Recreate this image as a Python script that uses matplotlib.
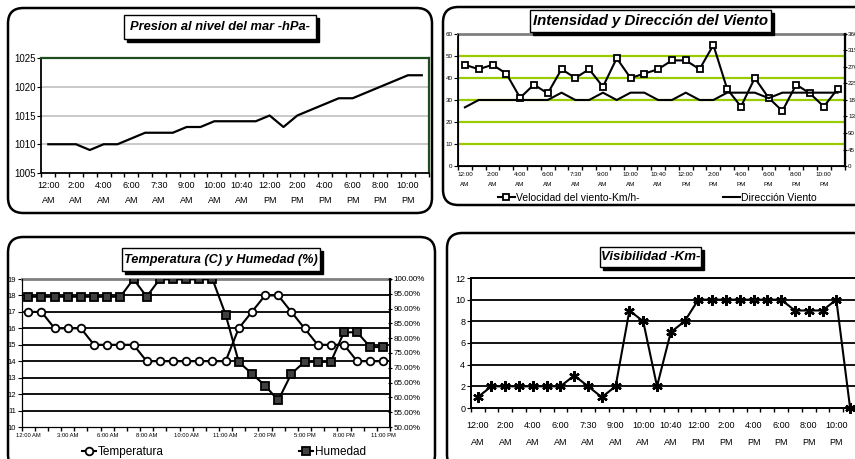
import matplotlib
matplotlib.use("Agg")
import matplotlib.pyplot as plt
from matplotlib.patches import FancyBboxPatch, Rectangle
from matplotlib.ticker import FuncFormatter

plt.rcParams['font.family'] = ['Liberation Sans', 'DejaVu Sans']

# ---------------- data ----------------
times = ['12:00 AM', '1:00 AM', '2:00 AM', '3:00 AM', '4:00 AM', '5:00 AM', '6:00 AM',
         '7:00 AM', '7:30 AM', '8:00 AM', '9:00 AM', '9:30 AM', '10:00 AM', '10:20 AM',
         '10:40 AM', '11:00 AM', '12:00 PM', '1:00 PM', '2:00 PM', '3:00 PM', '4:00 PM',
         '5:00 PM', '6:00 PM', '7:00 PM', '8:00 PM', '9:00 PM', '10:00 PM', '11:00 PM']

pressure = [1010, 1010, 1010, 1009, 1010, 1010, 1011, 1012, 1012, 1012, 1013, 1013, 1014, 1014,
            1014, 1014, 1015, 1013, 1015, 1016, 1017, 1018, 1018, 1019, 1020, 1021, 1022, 1022]

wind_speed = [46, 44, 46, 42, 31, 37, 33, 44, 40, 44, 36, 49, 40, 42,
              44, 48, 48, 44, 55, 35, 27, 40, 31, 25, 37, 33, 27, 35]
wind_dir = [160, 180, 180, 180, 180, 180, 180, 200, 180, 180, 200, 180, 200, 200,
            180, 180, 200, 180, 180, 200, 200, 200, 185, 200, 200, 200, 200, 200]

temperature = [17, 17, 16, 16, 16, 15, 15, 15, 15, 14, 14, 14, 14, 14,
               14, 14, 16, 17, 18, 18, 17, 16, 15, 15, 15, 14, 14, 14]
humidity = [94, 94, 94, 94, 94, 94, 94, 94, 100, 94, 100, 100, 100, 100,
            100, 88, 72, 68, 64, 59, 68, 72, 72, 72, 82, 82, 77, 77]

visibility = [1, 2, 2, 2, 2, 2, 2, 3, 2, 1, 2, 9, 8, 2,
              7, 8, 10, 10, 10, 10, 10, 10, 10, 9, 9, 9, 10, 0]

# ---------------- layout helpers ----------------
W, H = 855, 459
fig = plt.figure(figsize=(W / 100, H / 100), dpi=100)
fig.patch.set_facecolor('white')


def rect(x0, y0, x1, y1):
    return [x0 / W, 1 - y1 / H, (x1 - x0) / W, (y1 - y0) / H]


def frame(x0, y0, x1, y1):
    p = FancyBboxPatch((x0 / W, 1 - y1 / H), (x1 - x0) / W, (y1 - y0) / H,
                       boxstyle="round,pad=0,rounding_size=0.018",
                       transform=fig.transFigure, facecolor='white',
                       edgecolor='black', lw=1.8, zorder=-5, mutation_aspect=W / H)
    fig.patches.append(p)


def title_box(x0, y0, x1, y1, text, size):
    s = 3
    fig.patches.append(Rectangle(((x0 + s) / W, 1 - (y1 + s) / H), (x1 - x0) / W, (y1 - y0) / H,
                                 transform=fig.transFigure, facecolor='black',
                                 edgecolor='black', zorder=5))
    fig.patches.append(Rectangle((x0 / W, 1 - y1 / H), (x1 - x0) / W, (y1 - y0) / H,
                                 transform=fig.transFigure, facecolor='white',
                                 edgecolor='black', lw=1.0, zorder=6))
    fig.text((x0 + x1) / 2 / W, 1 - (y0 + y1) / 2 / H, text, ha='center', va='center',
             fontsize=size, fontweight='bold', fontstyle='italic', zorder=7)


n = len(times)
xs = list(range(n))


def cat_axis(ax, step, twoline, fs, ls=1.5, pad=4):
    ax.set_xlim(-0.5, n - 0.5)
    ax.set_xticks([i - 0.5 for i in range(n + 1)], minor=True)
    ax.tick_params(axis='x', which='minor', length=3, width=1, direction='out')
    pos = list(range(0, n, step))
    labs = [times[i].replace(' ', '\n') if twoline else times[i] for i in pos]
    ax.set_xticks(pos)
    ax.set_xticklabels(labs, fontsize=fs, linespacing=ls)
    ax.tick_params(axis='x', which='major', length=0, pad=pad)


# ---------------- frames ----------------
frame(8, 8, 432, 213)
frame(443, 7, 880, 205)
frame(8, 237, 435, 470)
frame(447, 233, 880, 470)

# ---------------- Panel 1: pressure ----------------
ax1 = fig.add_axes(rect(41.4, 58, 428.7, 173))
ax1.plot(xs, pressure, color='black', lw=1.6, zorder=3)
ax1.set_ylim(1005, 1025)
ax1.set_yticks([1005, 1010, 1015, 1020, 1025])
ax1.tick_params(axis='y', labelsize=7, length=3, pad=1)
for v in [1010, 1015, 1020]:
    ax1.axhline(v, color='#C0C0C0', lw=1.2, zorder=1)
cat_axis(ax1, 2, True, 6.5, ls=1.8, pad=6.0)
for sp in ['left', 'bottom']:
    ax1.spines[sp].set_color('black')
    ax1.spines[sp].set_linewidth(1.3)
for sp in ['top', 'right']:
    ax1.spines[sp].set_color('#1E4D1E')
    ax1.spines[sp].set_linewidth(1.6)
title_box(124, 15, 316, 39, 'Presion al nivel del mar -hPa-', 9.3)

# ---------------- Panel 2: wind ----------------
ax2 = fig.add_axes(rect(458, 34, 844.5, 166))
for v in [10, 20, 30, 40, 50]:
    ax2.axhline(v, color='#99CC00', lw=1.6, zorder=1)
l_speed, = ax2.plot(xs, wind_speed, color='black', lw=1.5, marker='s', ms=4.5,
                    mfc='white', mec='black', mew=1.3, zorder=4,
                    label='Velocidad del viento-Km/h-')
ax2.set_ylim(0, 60)
ax2.set_yticks(range(0, 61, 10))
ax2.tick_params(axis='y', labelsize=4.5, length=3, pad=1)
cat_axis(ax2, 2, True, 4.5, ls=2.3, pad=4)
ax2.spines['top'].set_color('#808080')
ax2.spines['top'].set_linewidth(2)
ax2.spines['left'].set_linewidth(1.3)
ax2.spines['bottom'].set_linewidth(1.3)
ax2b = ax2.twinx()
l_dir, = ax2b.plot(xs, wind_dir, color='black', lw=1.5, zorder=3, label='Dirección Viento')
ax2b.set_ylim(0, 360)
ax2b.set_yticks(range(0, 361, 45))
ax2b.tick_params(axis='y', labelsize=4.5, length=3, pad=1, direction='inout')
ax2b.spines['right'].set_linewidth(1.6)
ax2b.spines['top'].set_visible(False)
ax2b.set_xlim(-0.5, n - 0.5)
fig.legend(handles=[l_speed, l_dir], loc='center', bbox_to_anchor=(0.769, 1 - 198 / H),
           ncol=2, frameon=False, fontsize=7.5, columnspacing=8.0, handlelength=1.6,
           handletextpad=0.15)
title_box(530, 10, 771, 32, 'Intensidad y Dirección del Viento', 10.8)

# ---------------- Panel 3: temperature & humidity ----------------
ax3 = fig.add_axes(rect(21.7, 279, 390, 427))
for v in range(11, 19):
    ax3.axhline(v, color='black', lw=1.3, zorder=1)
l_t, = ax3.plot(xs, temperature, color='black', lw=1.5, marker='o', ms=5.5,
                mfc='white', mec='black', mew=1.3, zorder=4, label='Temperatura')
ax3.set_ylim(10, 19)
ax3.set_yticks(range(10, 20))
ax3.tick_params(axis='y', labelsize=5.5, length=3, pad=1)
cat_axis(ax3, 3, False, 4.2)
ax3.spines['top'].set_color('#808080')
ax3.spines['top'].set_linewidth(2)
ax3b = ax3.twinx()
l_h, = ax3b.plot(xs, humidity, color='black', lw=1.5, marker='s', ms=5.5,
                 mfc='#404040', mec='black', mew=1.3, zorder=4, label='Humedad')
ax3b.set_ylim(50, 100)
ax3b.set_yticks(range(50, 101, 5))
ax3b.yaxis.set_major_formatter(FuncFormatter(lambda v, p: f'{v:.2f}%'))
ax3b.tick_params(axis='y', labelsize=5.8, length=3, pad=1, direction='inout')
ax3b.spines['right'].set_linewidth(1.4)
ax3b.spines['top'].set_visible(False)
ax3b.set_xlim(-0.5, n - 0.5)
fig.legend(handles=[l_t, l_h], loc='center', bbox_to_anchor=(0.262, 1 - 452 / H),
           ncol=2, frameon=False, fontsize=8.5, columnspacing=11.5, handlelength=1.2,
           handletextpad=0.15)
title_box(122, 248, 320, 271, 'Temperatura (C) y Humedad (%)', 9.2)

# ---------------- Panel 4: visibility ----------------
ax4 = fig.add_axes(rect(470.8, 278, 857, 408))
for v in [2, 4, 6, 8, 10]:
    ax4.axhline(v, color='black', lw=1.3, zorder=1)
ax4.plot(xs, visibility, color='black', lw=1.5, marker=(6, 2, 0), ms=7.5, mec='black',
         mew=1.7, zorder=4, clip_on=False)
ax4.set_ylim(0, 12)
ax4.set_yticks(range(0, 13, 2))
ax4.tick_params(axis='y', labelsize=6.5, length=3, pad=1)
cat_axis(ax4, 2, True, 6.5, ls=2.2, pad=9.0)
for sp in ax4.spines.values():
    sp.set_linewidth(1.4)
title_box(600, 247, 701, 267, 'Visibilidad -Km-', 9.5)

fig.savefig('out.png', dpi=100, facecolor='white')
